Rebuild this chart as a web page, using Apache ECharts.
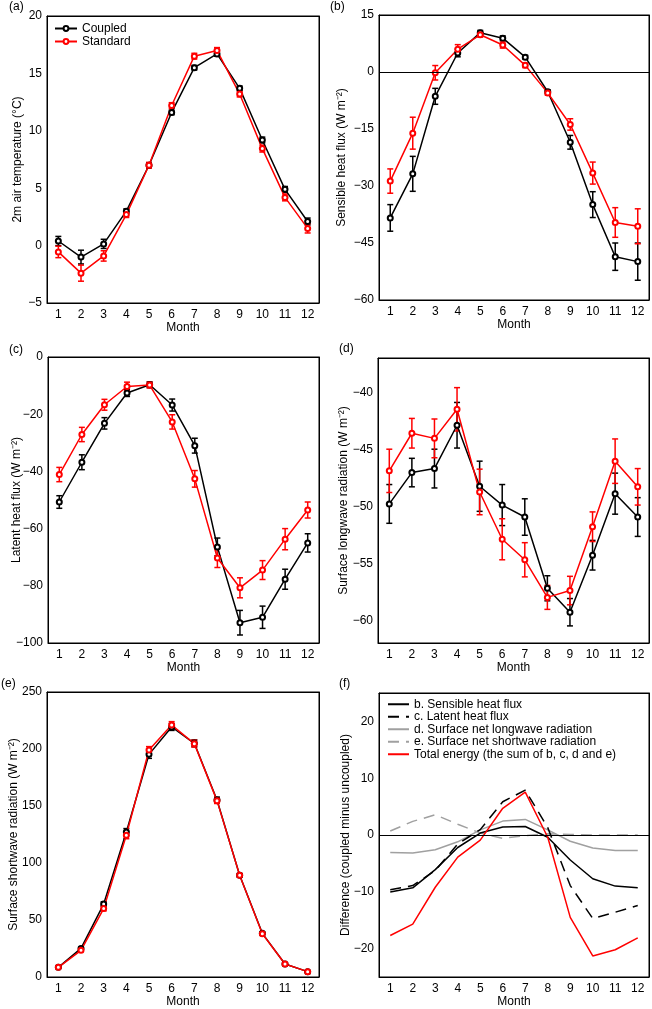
<!DOCTYPE html>
<html>
<head>
<meta charset="utf-8">
<script src="https://cdn.jsdelivr.net/npm/echarts@6/dist/echarts.min.js"></script>
<style>
  html, body { margin: 0; padding: 0; background: #fff; }
  #chart { width: 652px; height: 1009px; }
</style>
</head>
<body>
<div id="chart"></div>
<script>
// Month ticks
var months = ['1', '2', '3', '4', '5', '6', '7', '8', '9', '10', '11', '12'];

// (a) 2m air temperature
var tempCoupled = [0.4, -1.0, 0.15, 3.0, 7.0, 11.6, 15.5, 16.7, 13.7, 9.2, 4.9, 2.1];
var tempCoupledErr = [0.4, 0.6, 0.4, 0.2, 0.2, 0.2, 0.2, 0.2, 0.2, 0.25, 0.25, 0.3];
var tempStandard = [-0.55, -2.4, -0.9, 2.7, 7.0, 12.2, 16.5, 17.0, 13.2, 8.45, 4.2, 1.5];
var tempStandardErr = [0.5, 0.7, 0.45, 0.25, 0.25, 0.25, 0.25, 0.25, 0.25, 0.3, 0.3, 0.4];

// (b) sensible heat flux
var sensCoupled = [-38.4, -26.8, -6.4, 5.0, 10.35, 8.9, 3.9, -5.2, -18.5, -34.9, -48.6, -49.9];
var sensCoupledErr = [3.5, 4.6, 2.1, 1.0, 0.6, 0.6, 0.5, 0.5, 1.8, 3.4, 3.6, 4.9];
var sensStandard = [-28.7, -16.1, -0.2, 6.0, 9.8, 7.1, 1.75, -5.5, -13.8, -26.6, -39.6, -40.6];
var sensStandardErr = [3.2, 4.2, 1.9, 1.2, 0.6, 0.8, 0.6, 0.6, 1.5, 2.9, 3.9, 4.6];

// (c) latent heat flux
var latCoupled = [-50.7, -36.8, -23.2, -12.6, -9.7, -16.8, -31.0, -66.4, -92.9, -91.0, -77.7, -65.0];
var latCoupledErr = [2.2, 2.6, 2.0, 1.2, 1.0, 2.1, 2.6, 3.1, 4.3, 3.9, 3.5, 3.2];
var latStandard = [-41.1, -27.1, -16.7, -10.3, -9.8, -22.7, -42.6, -70.3, -80.7, -74.5, -63.7, -53.5];
var latStandardErr = [2.5, 2.5, 1.9, 1.5, 1.0, 2.5, 2.9, 3.3, 3.5, 3.3, 3.7, 2.8];

// (d) surface longwave radiation
var lwCoupled = [-49.8, -47.05, -46.7, -42.9, -48.25, -49.9, -50.95, -57.2, -59.3, -54.3, -48.9, -50.95];
var lwCoupledErr = [1.7, 1.25, 1.7, 2.0, 2.2, 1.8, 1.6, 1.1, 1.2, 1.3, 1.8, 1.7];
var lwStandard = [-46.9, -43.6, -44.05, -41.5, -48.75, -52.9, -54.7, -58.0, -57.4, -51.8, -46.05, -48.3];
var lwStandardErr = [1.9, 1.3, 1.7, 1.9, 2.0, 1.8, 1.5, 1.05, 1.25, 1.3, 1.95, 1.6];

// (e) surface shortwave radiation
var swCoupled = [8.5, 25.1, 64, 127.2, 195.3, 219.3, 205, 155.3, 89.2, 38.3, 11.4, 4.7];
var swCoupledErr = [0.5, 1, 2, 3, 3.5, 3, 3, 2.5, 1.5, 1, 0.5, 0.5];
var swStandard = [8.5, 23.4, 60, 124.3, 199.1, 221, 204.7, 154.7, 89.2, 38, 11.4, 4.7];
var swStandardErr = [0.5, 1, 2, 3, 3, 3, 3, 2.5, 1.5, 1, 0.5, 0.5];

// (f) differences, coupled minus uncoupled
var diffSensible = [-10.05, -9.3, -6.1, -2.2, 0.35, 1.4, 1.5, -0.4, -4.4, -7.7, -9.0, -9.3];
var diffLatent = [-9.65, -8.9, -6.25, -1.6, 0.95, 5.85, 7.9, 1.3, -8.9, -14.7, -13.6, -12.4];
var diffLongwave = [-3.1, -3.15, -2.6, -1.2, 0.9, 2.45, 2.75, 0.9, -1.1, -2.3, -2.75, -2.75];
var diffShortwave = [0.7, 2.4, 3.55, 1.9, 0.35, -0.6, -0.1, 0.2, 0.1, 0, 0, 0];
var diffTotal = [-17.7, -15.7, -9.2, -3.9, -0.9, 4.7, 7.55, -0.4, -14.5, -21.3, -20.2, -18.1];

var FONT = 'Liberation Sans, Arial, Helvetica, sans-serif';
var RED = '#ff0000';
var GRAY = '#a0a0a0';

// panel boxes in pixels
var grids = [
    {left: 47, top: 16, width: 272, height: 287},
    {left: 379, top: 15, width: 270, height: 285},
    {left: 48, top: 357, width: 271, height: 286},
    {left: 378, top: 358, width: 271, height: 285},
    {left: 47, top: 692, width: 272, height: 285},
    {left: 379, top: 693, width: 270, height: 284}
];
grids.forEach(function(g) {
    g.show = true;
    g.borderColor = '#000';
    g.borderWidth = 1;
    g.backgroundColor = 'transparent';
    g.containLabel = false;
});

function minus(v) {
    return String(v).replace('-', '\u2212');
}

function axisLine() {
    return {show: true, onZero: false, lineStyle: {color: '#000', width: 1}};
}
function tick() {
    return {inside: true, length: 4, lineStyle: {color: '#000', width: 1}};
}

var xAxes = [];
var yAxes = [];

function addAxes(gi, y, yName, nameGap) {
    var xt = tick();
    xt.alignWithLabel = true;
    xt.interval = 0;
    xAxes.push({
        type: 'category', gridIndex: gi, data: months, boundaryGap: true,
        axisLine: axisLine(),
        axisTick: xt,
        axisLabel: {color: '#000', fontSize: 12, fontFamily: FONT, margin: 6, interval: 0},
        name: 'Month', nameLocation: 'middle', nameGap: 18,
        nameTextStyle: {color: '#000', fontSize: 12, fontFamily: FONT}
    });
    // mirrored axis on top, ticks only
    xAxes.push({
        type: 'category', gridIndex: gi, data: months, boundaryGap: true, position: 'top',
        axisLine: axisLine(),
        axisTick: Object.assign({}, xt),
        axisLabel: {show: false}
    });
    var left = {
        type: 'value', gridIndex: gi, min: y.min, max: y.max,
        splitLine: {show: false},
        axisLine: axisLine(),
        axisTick: tick(),
        axisLabel: {color: '#000', fontSize: 12, fontFamily: FONT, margin: 5, formatter: minus},
        name: yName, nameLocation: 'middle', nameGap: nameGap, nameMoveOverlap: false,
        nameTextStyle: {color: '#000', fontSize: 12, fontFamily: FONT}
    };
    var right = {
        type: 'value', gridIndex: gi, min: y.min, max: y.max, position: 'right',
        splitLine: {show: false},
        axisLine: axisLine(),
        axisTick: tick(),
        axisLabel: {show: false}
    };
    if (y.ticks) {
        left.axisTick.customValues = y.ticks;
        left.axisLabel.customValues = y.ticks;
        right.axisTick.customValues = y.ticks;
        right.axisLabel.customValues = y.ticks;
    } else {
        left.interval = y.interval;
        right.interval = y.interval;
    }
    yAxes.push(left, right);
}

addAxes(0, {min: -5, max: 20, interval: 5}, '2m air temperature (\u00b0C)', 23);
addAxes(1, {min: -60, max: 15, interval: 15}, 'Sensible heat flux (W m\u207b\u00b2)', 31);
addAxes(2, {min: -100, max: 0, interval: 20}, 'Latent heat flux (W m\u207b\u00b2)', 25);
addAxes(3, {min: -62, max: -37, ticks: [-60, -55, -50, -45, -40]}, 'Surface longwave radiation (W m\u207b\u00b2)', 28);
addAxes(4, {min: 0, max: 250, interval: 50}, 'Surface shortwave radiation (W m\u207b\u00b2)', 27);
addAxes(5, {min: -25, max: 25, ticks: [-20, -10, 0, 10, 20]}, 'Difference (coupled minus uncoupled)', 27);

// error bar drawing
function errorBars(gi, vals, errs, color) {
    return {
        type: 'custom',
        xAxisIndex: gi * 2, yAxisIndex: gi * 2,
        silent: true,
        encode: {x: 0, y: [1, 2]},
        data: vals.map(function(v, i) { return [i, v - errs[i], v + errs[i]]; }),
        renderItem: function(params, api) {
            var lo = api.coord([api.value(0), api.value(1)]);
            var hi = api.coord([api.value(0), api.value(2)]);
            var w = 3;
            var style = {stroke: color, lineWidth: 1.5};
            return {
                type: 'group',
                children: [
                    {type: 'line', shape: {x1: lo[0], y1: lo[1], x2: hi[0], y2: hi[1]}, style: style},
                    {type: 'line', shape: {x1: lo[0] - w, y1: lo[1], x2: lo[0] + w, y2: lo[1]}, style: style},
                    {type: 'line', shape: {x1: hi[0] - w, y1: hi[1], x2: hi[0] + w, y2: hi[1]}, style: style}
                ]
            };
        }
    };
}

function markerLine(gi, name, vals, color) {
    return {
        type: 'line', name: name,
        xAxisIndex: gi * 2, yAxisIndex: gi * 2,
        data: vals,
        symbol: 'emptyCircle', symbolSize: 5, showAllSymbol: true,
        lineStyle: {color: color, width: 1.5},
        itemStyle: {color: color, borderColor: color, borderWidth: 1.2},
        emphasis: {disabled: true}
    };
}

function plainLine(gi, name, vals, color, dash) {
    return {
        type: 'line', name: name,
        xAxisIndex: gi * 2, yAxisIndex: gi * 2,
        data: vals,
        showSymbol: false, symbol: 'none',
        lineStyle: {color: color, width: 1.5, type: dash || 'solid'},
        itemStyle: {color: color},
        emphasis: {disabled: true}
    };
}

function zeroLine() {
    return {
        silent: true, symbol: ['none', 'none'],
        label: {show: false},
        lineStyle: {color: '#000', type: 'solid', width: 1},
        data: [{yAxis: 0}]
    };
}

var panels = [
    [tempCoupled, tempCoupledErr, tempStandard, tempStandardErr],
    [sensCoupled, sensCoupledErr, sensStandard, sensStandardErr],
    [latCoupled, latCoupledErr, latStandard, latStandardErr],
    [lwCoupled, lwCoupledErr, lwStandard, lwStandardErr],
    [swCoupled, swCoupledErr, swStandard, swStandardErr]
];

var series = [];
panels.forEach(function(p, gi) {
    series.push(errorBars(gi, p[0], p[1], '#000'));
    var black = markerLine(gi, 'Coupled', p[0], '#000');
    if (gi === 1) black.markLine = zeroLine();
    series.push(black);
    series.push(errorBars(gi, p[2], p[3], RED));
    series.push(markerLine(gi, 'Standard', p[2], RED));
});

series.push(plainLine(5, 'e. Surface net shortwave radiation', diffShortwave, GRAY, [11, 7]));
series.push(plainLine(5, 'd. Surface net longwave radiation', diffLongwave, GRAY));
series.push(plainLine(5, 'c. Latent heat flux', diffLatent, '#000', [11, 7]));
var sens = plainLine(5, 'b. Sensible heat flux', diffSensible, '#000');
sens.markLine = zeroLine();
series.push(sens);
series.push(plainLine(5, 'Total energy (the sum of b, c, d and e)', diffTotal, RED));

// panel letters
var letters = [
    ['(a)', 9, 1], ['(b)', 330, 1], ['(c)', 9, 344], ['(d)', 339, 343], ['(e)', 1, 678], ['(f)', 339, 678]
];
var graphic = letters.map(function(l) {
    return {type: 'text', left: l[1], top: l[2], style: {text: l[0], fill: '#000', font: '12px ' + FONT}};
});

var chart = echarts.init(document.getElementById('chart'), null, {renderer: 'canvas'});
chart.setOption({
    animation: false,
    backgroundColor: '#fff',
    textStyle: {fontFamily: FONT},
    grid: grids,
    xAxis: xAxes,
    yAxis: yAxes,
    legend: [
        {
            data: ['Coupled', 'Standard'],
            left: 54, top: 22, orient: 'vertical', padding: 0,
            itemWidth: 22, itemHeight: 6, itemGap: 0,
            textStyle: {color: '#000', fontSize: 12, fontFamily: FONT, lineHeight: 13},
            selectedMode: false
        },
        {
            data: ['b. Sensible heat flux', 'c. Latent heat flux', 'd. Surface net longwave radiation',
                'e. Surface net shortwave radiation', 'Total energy (the sum of b, c, d and e)'],
            left: 387, top: 698, orient: 'vertical', padding: 0,
            itemWidth: 21, itemHeight: 6, itemGap: 0,
            itemStyle: {opacity: 0},
            textStyle: {color: '#000', fontSize: 12, fontFamily: FONT, lineHeight: 12.5},
            selectedMode: false
        }
    ],
    graphic: graphic,
    series: series
});
</script>
</body>
</html>
